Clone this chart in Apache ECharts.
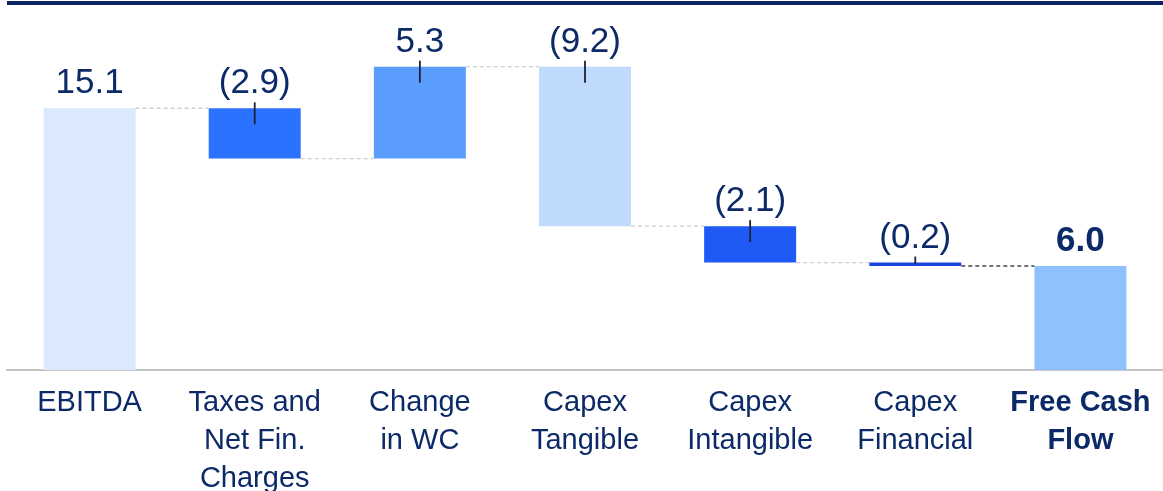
<!DOCTYPE html>
<html lang="en">
<head>
    <meta charset="UTF-8">
    <title>Free Cash Flow bridge</title>
    <style type="text/css">
        html,
        body,
        .canvas {
            padding: 0;
            margin: 0;
            background-color: #ffffff;
            width: 1163px;
            height: 491px;
            overflow: hidden;
        }
    </style>
</head>
<body>
<div class="canvas" id="bridgeChart"></div>
<script type="text/javascript" src="https://cdn.jsdelivr.net/npm/echarts@6/dist/echarts.min.js"></script>
<script>
    const categories = ['EBITDA', 'Taxes and\nNet Fin.\nCharges', 'Change\nin WC', 'Capex\nTangible',
        'Capex\nIntangible', 'Capex\nFinancial', 'Free Cash\nFlow'];
    const values = [15.1, -2.9, 5.3, -9.2, -2.1, -0.2, 6.0];
    const isTotal = [true, false, false, false, false, false, true];
    const valueLabels = ['15.1', '(2.9)', '5.3', '(9.2)', '(2.1)', '(0.2)', '6.0'];
    const barColors = ['#dbe9fd', '#2b72fe', '#5a9dfd', '#bfdafd', '#1f5af7', '#1a45dd', '#8fc1fe'];

    const navy = '#0c2a68';
    const halfBar = 46;

    // waterfall: invisible base + visible piece
    let running = 0;
    const baseData = [];
    const pieceData = [];
    const levels = [];
    const ticks = [];
    values.forEach(function (v, i) {
        if (isTotal[i]) {
            baseData.push(0);
            pieceData.push(v);
            running = v;
        } else {
            const start = running;
            running = +(running + v).toFixed(2);
            const lo = Math.min(start, running);
            const hi = Math.max(start, running);
            baseData.push(lo);
            pieceData.push(+(hi - lo).toFixed(2));
            ticks.push([i, hi, lo]);
        }
        levels.push([i, running]);
    });
    levels.pop();

    const chart = echarts.init(document.getElementById('bridgeChart'), null, {renderer: 'canvas'});

    chart.setOption({
        animation: false,
        backgroundColor: '#ffffff',
        grid: {left: 7, right: 0, top: 6, bottom: 121, containLabel: false, outerBoundsMode: 'none'},
        graphic: [{
            type: 'rect',
            left: 7, top: 1,
            shape: {width: 1156, height: 4},
            style: {fill: '#0a2463'}
        }],
        xAxis: {
            type: 'category',
            data: categories,
            axisLine: {lineStyle: {color: '#c4c4c4', width: 2}},
            axisTick: {show: false},
            axisLabel: {
                interval: 0,
                margin: 14,
                color: navy,
                fontFamily: 'Liberation Sans, Arial, sans-serif',
                fontSize: 29,
                lineHeight: 38,
                formatter: function (val, idx) {
                    if (idx === categories.length - 1) {
                        return val.split('\n').map(function (s) {
                            return '{b|' + s + '}';
                        }).join('\n');
                    }
                    return val;
                },
                rich: {
                    b: {
                        fontWeight: 'bold',
                        fontSize: 29,
                        lineHeight: 38,
                        color: navy,
                        fontFamily: 'Liberation Sans, Arial, sans-serif'
                    }
                }
            }
        },
        yAxis: {
            type: 'value',
            min: 0,
            max: 21,
            show: false,
            splitLine: {show: false}
        },
        series: [
            {
                type: 'bar',
                stack: 'wf',
                barWidth: 92,
                silent: true,
                itemStyle: {color: 'transparent'},
                data: baseData
            },
            {
                type: 'bar',
                stack: 'wf',
                barWidth: 92,
                data: pieceData.map(function (v, i) {
                    return {
                        value: v,
                        itemStyle: {color: barColors[i]},
                        label: {fontWeight: isTotal[i] && i > 0 ? 'bold' : 'normal'}
                    };
                }),
                label: {
                    show: true,
                    position: 'top',
                    distance: 7,
                    color: navy,
                    fontFamily: 'Liberation Sans, Arial, sans-serif',
                    fontSize: 35,
                    formatter: function (p) {
                        return valueLabels[p.dataIndex];
                    }
                }
            },
            {
                type: 'custom',
                z: 5,
                silent: true,
                data: levels,
                renderItem: function (params, api) {
                    const i = api.value(0);
                    const lv = api.value(1);
                    const a = api.coord([i, lv]);
                    const b = api.coord([i + 1, lv]);
                    const last = i === categories.length - 2;
                    return {
                        type: 'line',
                        shape: {x1: a[0] + halfBar, y1: a[1], x2: b[0] - halfBar, y2: b[1]},
                        style: {
                            stroke: last ? '#444444' : '#cfcfcf',
                            lineWidth: 1.3,
                            lineDash: [4, 3]
                        }
                    };
                }
            },
            {
                type: 'custom',
                z: 6,
                silent: true,
                data: ticks,
                renderItem: function (params, api) {
                    const i = api.value(0);
                    const top = api.coord([i, api.value(1)]);
                    const bot = api.coord([i, api.value(2)]);
                    return {
                        type: 'line',
                        shape: {
                            x1: top[0], y1: top[1] - 6,
                            x2: top[0], y2: Math.min(top[1] + 16, bot[1] - 2)
                        },
                        style: {stroke: '#1c2233', lineWidth: 1.8}
                    };
                }
            }
        ]
    });
</script>
</body>
</html>
